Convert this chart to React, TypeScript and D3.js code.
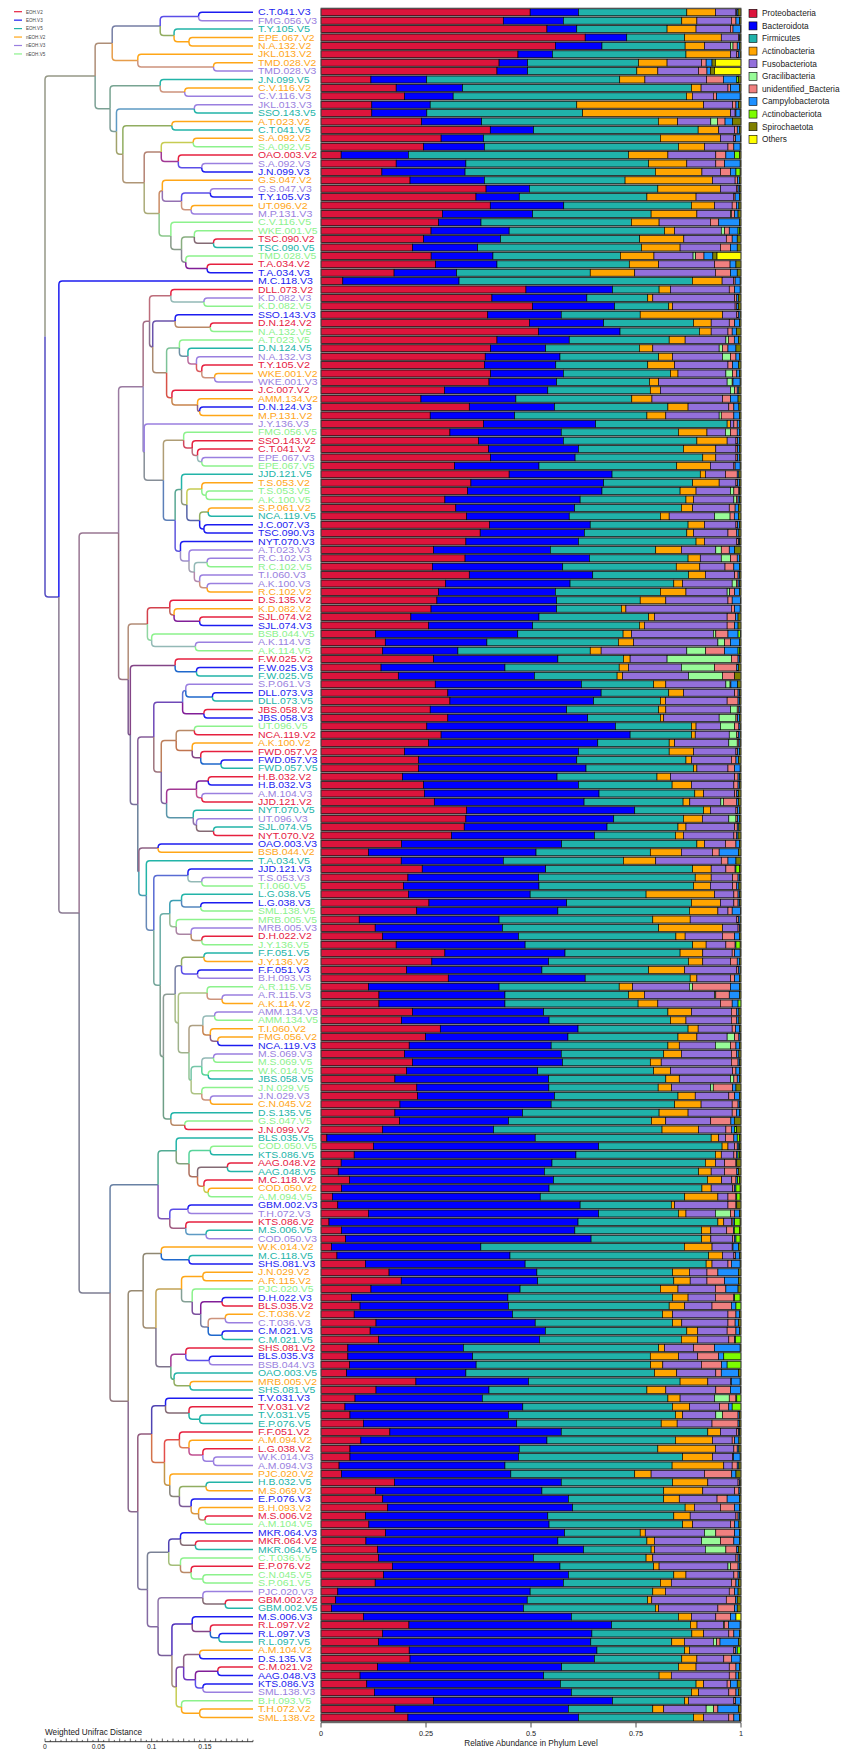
import React from "react";
import * as d3 from "d3";

// sample order (top to bottom, = dendrogram leaf order)
const samples = [
  "C.T.041.V3","FMG.056.V3","T.Y.105.V5","EPE.067.V2","N.A.132.V2","JKL.013.V2","TMD.028.V2","TMD.028.V3","J.N.099.V5","C.V.116.V2",
  "C.V.116.V3","JKL.013.V3","SSO.143.V5","A.T.023.V2","C.T.041.V5","S.A.092.V2","S.A.092.V5","OAO.003.V2","S.A.092.V3","J.N.099.V3",
  "G.S.047.V2","G.S.047.V3","T.Y.105.V3","UT.096.V2","M.P.131.V3","C.V.116.V5","WKE.001.V5","TSC.090.V2","TSC.090.V5","TMD.028.V5",
  "T.A.034.V2","T.A.034.V3","M.C.118.V3","DLL.073.V2","K.D.082.V3","K.D.082.V5","SSO.143.V3","D.N.124.V2","N.A.132.V5","A.T.023.V5",
  "D.N.124.V5","N.A.132.V3","T.Y.105.V2","WKE.001.V2","WKE.001.V3","J.C.007.V2","AMM.134.V2","D.N.124.V3","M.P.131.V2","J.Y.136.V3",
  "FMG.056.V5","SSO.143.V2","C.T.041.V2","EPE.067.V3","EPE.067.V5","JJD.121.V5","T.S.053.V2","T.S.053.V5","A.K.100.V5","S.P.061.V2",
  "NCA.119.V5","J.C.007.V3","TSC.090.V3","NYT.070.V3","A.T.023.V3","R.C.102.V3","R.C.102.V5","T.I.060.V3","A.K.100.V3","R.C.102.V2",
  "D.S.135.V2","K.D.082.V2","SJL.074.V2","SJL.074.V3","BSB.044.V5","A.K.114.V3","A.K.114.V5","F.W.025.V2","F.W.025.V3","F.W.025.V5",
  "S.P.061.V3","DLL.073.V3","DLL.073.V5","JBS.058.V2","JBS.058.V3","UT.096.V5","NCA.119.V2","A.K.100.V2","FWD.057.V2","FWD.057.V3",
  "FWD.057.V5","H.B.032.V2","H.B.032.V3","A.M.104.V3","JJD.121.V2","NYT.070.V5","UT.096.V3","SJL.074.V5","NYT.070.V2","OAO.003.V3",
  "BSB.044.V2","T.A.034.V5","JJD.121.V3","T.S.053.V3","T.I.060.V5","L.G.038.V5","L.G.038.V3","SML.138.V5","MRB.005.V5","MRB.005.V3",
  "D.H.022.V2","J.Y.136.V5","F.F.051.V5","J.Y.136.V2","F.F.051.V3","B.H.093.V3","A.R.115.V5","A.R.115.V3","A.K.114.V2","AMM.134.V3",
  "AMM.134.V5","T.I.060.V2","FMG.056.V2","NCA.119.V3","M.S.069.V3","M.S.069.V5","W.K.014.V5","JBS.058.V5","J.N.029.V5","J.N.029.V3",
  "C.N.045.V2","D.S.135.V5","G.S.047.V5","J.N.099.V2","BLS.035.V5","COD.050.V5","KTS.086.V5","AAG.048.V2","AAG.048.V5","M.C.118.V2",
  "COD.050.V2","A.M.094.V5","GBM.002.V3","T.H.072.V3","KTS.086.V2","M.S.006.V5","COD.050.V3","W.K.014.V2","M.C.118.V5","SHS.081.V3",
  "J.N.029.V2","A.R.115.V2","PJC.020.V5","D.H.022.V3","BLS.035.V2","C.T.036.V2","C.T.036.V3","C.M.021.V3","C.M.021.V5","SHS.081.V2",
  "BLS.035.V3","BSB.044.V3","OAO.003.V5","MRB.005.V2","SHS.081.V5","T.V.031.V3","T.V.031.V2","T.V.031.V5","E.P.076.V5","F.F.051.V2",
  "A.M.094.V2","L.G.038.V2","W.K.014.V3","A.M.094.V3","PJC.020.V2","H.B.032.V5","M.S.069.V2","E.P.076.V3","B.H.093.V2","M.S.006.V2",
  "A.M.104.V5","MKR.064.V3","MKR.064.V2","MKR.064.V5","C.T.036.V5","E.P.076.V2","C.N.045.V5","S.P.061.V5","PJC.020.V3","GBM.002.V2",
  "GBM.002.V5","M.S.006.V3","R.L.097.V2","R.L.097.V3","R.L.097.V5","A.M.104.V2","D.S.135.V3","C.M.021.V2","AAG.048.V3","KTS.086.V3",
  "SML.138.V3","B.H.093.V5","T.H.072.V2","SML.138.V2",
];

const eohSubjects = [
  "C.T.041","T.Y.105","J.N.099","SSO.143","OAO.003","TSC.090","T.A.034","M.C.118","DLL.073","D.N.124",
  "J.C.007","JJD.121","NCA.119","NYT.070","D.S.135","SJL.074","F.W.025","JBS.058","FWD.057","H.B.032",
  "L.G.038","D.H.022","F.F.051","BLS.035","KTS.086","AAG.048","GBM.002","M.S.006","SHS.081","C.M.021",
  "T.V.031","E.P.076","MKR.064","R.L.097",
];

const groups = ["EOH.V2", "EOH.V3", "EOH.V5", "nEOH.V2", "nEOH.V3", "nEOH.V5"];
const groupColors = ["#e6203f", "#1c1cf0", "#22b4a8", "#ffa617", "#9a7fe0", "#8cf28c"];

const phyla = [
  "Proteobacteria", "Bacteroidota", "Firmicutes", "Actinobacteria", "Fusobacteriota", "Gracilibacteria",
  "unidentified_Bacteria", "Campylobacterota", "Actinobacteriota", "Spirochaetota", "Others",
];
const phylaColors = [
  "#dc143c", "#0000ff", "#20b2aa", "#ffa500", "#9370db", "#98fb98",
  "#f08080", "#1e90ff", "#7cfc00", "#808000", "#ffff00",
];
const abundanceTicks = [0, 0.25, 0.5, 0.75, 1];
const distanceTicks = [0, 0.05, 0.1, 0.15];

// right-hand edge of the five main segments, per mille
const proteoEdge = [
  498,434,538,629,558,469,424,419,119,179, 199,121,121,240,403,286,244,48,179,145,
  212,393,369,403,289,280,262,244,218,262, 273,174,52,488,407,504,397,496,518,419,
  404,391,389,404,400,294,238,353,260,387, 307,375,399,404,318,448,357,349,295,321,
  347,401,379,345,268,343,265,353,297,280, 276,262,214,256,130,153,147,268,143,184,
  272,302,307,260,302,252,286,256,199,232, 232,194,244,246,270,347,345,341,311,192,
  113,191,241,207,196,208,257,228,91,129, 147,179,295,264,204,303,113,138,138,218,
  192,284,249,210,199,218,204,176,228,230, 188,176,187,147,14,125,79,48,41,68,
  49,27,40,113,19,49,59,25,38,106, 162,191,119,73,93,79,131,117,137,64,
  64,68,61,226,131,81,57,69,101,164, 95,69,69,43,49,175,130,147,159,106,
  114,154,107,135,137,170,149,129,40,35, 25,101,210,147,137,210,212,135,93,109,
  127,268,176,207,
];
const bactEdge = [
  613,577,609,728,669,551,492,492,252,337, 315,260,252,383,506,387,389,208,345,343,
  389,496,472,578,504,381,448,427,373,409, 419,323,329,694,633,699,572,673,712,591,
  535,569,559,577,561,540,464,556,461,654, 572,577,613,605,519,693,673,669,617,604,
  591,641,627,613,546,639,575,647,593,558, 561,561,519,504,469,395,326,564,438,508,
  620,667,649,585,635,701,736,659,613,609, 631,562,613,662,627,747,697,681,651,573,
  512,434,535,518,519,498,585,564,424,432, 470,486,581,542,526,629,424,438,438,530,
  543,612,588,548,572,575,516,542,542,556, 548,480,446,411,510,661,607,550,532,554,
  543,522,617,661,612,605,645,381,450,486, 514,516,474,445,446,456,510,534,520,339,
  361,369,345,494,400,384,480,446,466,572, 538,472,470,438,452,572,526,589,599,540,
  543,580,564,625,506,569,589,577,498,490, 482,596,694,645,643,657,651,573,530,570,
  596,694,589,613,
];
const firmEdge = [
  871,859,824,866,867,869,756,752,712,882, 871,609,623,804,898,808,851,732,780,796,
  724,802,776,882,786,739,818,758,763,712, 734,641,885,805,778,828,760,887,901,829,
  758,804,778,832,782,784,740,826,776,967, 851,895,863,909,847,903,885,855,869,858,
  808,874,871,893,797,874,845,875,840,808, 760,715,780,758,720,708,641,720,710,705,
  792,828,808,804,808,882,882,829,829,869, 887,800,836,890,863,911,863,850,844,895,
  784,720,885,891,887,774,882,877,790,804, 845,885,855,875,780,879,710,732,755,826,
  832,874,850,826,816,784,792,821,802,850, 842,805,786,812,929,955,939,915,899,921,
  907,866,834,851,945,907,909,866,923,917, 837,840,808,837,829,813,837,871,858,804,
  784,784,794,855,776,826,836,844,810,921, 844,802,861,836,747,837,816,816,867,840,
  861,760,776,786,774,792,840,808,790,776, 796,851,882,883,836,866,859,851,805,893,
  882,866,790,887,
];
const actinoEdge = [
  939,895,893,953,913,975,824,802,772,905, 885,911,975,850,947,951,913,826,871,907,
  932,951,893,937,895,805,842,863,855,792, 804,747,956,832,790,837,956,929,929,867,
  790,837,842,850,804,808,788,874,821,975, 919,967,940,940,927,915,948,893,887,885,
  829,913,887,913,858,903,901,915,861,869, 821,726,794,770,740,744,667,736,732,718,
  821,863,820,821,816,893,891,842,887,882, 895,832,882,911,879,927,908,869,863,913,
  858,797,929,929,927,937,951,945,879,956, 867,917,909,909,866,895,742,770,802,882,
  869,898,895,853,858,810,832,853,834,891, 905,874,820,899,947,969,953,939,929,955,
  929,945,842,869,959,929,931,932,956,931, 877,879,850,874,866,837,859,897,897,818,
  851,813,847,921,821,855,877,861,848,951, 932,939,932,959,786,921,909,853,889,879,
  885,772,794,794,790,805,869,834,820,786, 804,882,898,911,866,877,895,893,834,911,
  899,875,816,911,
];
const fusoEdge = [
  988,977,975,994,975,990,906,899,919,969, 935,980,986,929,985,983,969,940,940,951,
  986,990,983,979,975,927,953,964,951,885, 937,939,983,972,985,986,990,972,969,964,
  948,956,969,964,967,975,956,971,948,983, 963,988,988,988,983,963,988,975,983,972,
  937,988,969,990,940,953,961,985,979,967, 969,977,967,967,935,945,871,824,858,875,
  964,985,967,975,948,951,972,971,988,977, 969,985,983,985,953,988,971,985,983,963,
  932,953,964,980,980,983,983,969,990,993, 956,964,979,975,990,975,877,937,951,977,
  977,979,967,939,977,977,980,975,927,971, 979,979,927,964,963,985,983,961,961,979,
  980,969,969,939,977,967,983,980,983,969, 919,919,939,939,931,969,969,967,971,887,
  897,905,940,975,940,937,948,940,931,990, 979,983,980,979,913,993,985,943,951,988,
  975,913,906,915,988,969,983,977,972,963, 945,940,961,971,935,983,959,972,972,967,
  971,983,917,971,
];

// minor phyla, per mille
const gracilibacteria = [
  0,0,0,0,6,0,0,0,0,0, 0,0,0,16,0,0,0,0,0,0, 0,0,0,0,2,0,8,0,0,6, 0,0,0,0,0,0,0,0,0,6,
  8,19,0,16,12,10,0,0,5,0, 12,0,0,0,0,0,0,8,6,0, 37,0,0,0,13,22,0,0,10,6, 0,0,0,0,6,16,45,153,79,81,
  10,0,0,16,40,34,18,20,0,0, 0,0,0,0,6,0,17,0,0,0, 0,0,0,0,0,0,0,0,0,0, 0,0,0,0,0,0,8,3,0,0,
  0,0,18,36,0,0,0,8,6,0, 0,0,0,0,0,0,0,0,0,0, 0,0,0,36,0,0,0,0,0,0, 0,0,0,0,0,0,0,0,0,0,
  0,0,0,0,0,35,0,16,0,0, 0,0,0,0,0,0,0,0,0,0, 0,27,45,49,0,6,0,0,0,0, 0,0,2,0,8,0,0,0,0,0,
  0,0,18,0,
];
const unidentified = [
  2,11,6,2,10,4,11,20,40,6, 8,8,2,18,6,4,14,24,21,24, 6,3,3,10,8,20,11,14,24,20, 37,36,4,13,5,4,4,13,10,14,
  13,13,11,10,2,6,19,12,30,8, 16,4,4,4,3,28,4,12,4,14, 10,4,21,4,19,16,21,8,4,12, 10,8,20,18,29,14,45,16,53,29,
  2,8,26,4,4,10,4,4,4,11, 16,8,10,5,32,4,4,6,6,25, 16,16,22,13,10,10,10,10,4,3, 29,22,6,16,4,10,90,32,28,13,
  13,8,10,13,13,16,8,8,46,14, 14,10,48,13,20,6,6,27,29,10, 4,19,19,10,4,16,4,2,4,8, 26,42,25,44,46,19,17,21,14,50,
  50,48,13,2,35,16,22,37,62,4, 6,8,2,12,65,3,10,24,34,5, 10,45,32,26,5,18,10,11,13,22, 40,35,10,12,8,4,18,16,16,8,
  17,4,10,12,
];
const campylobacterota = [
  3,8,18,2,6,4,14,8,32,21, 56,6,10,18,5,12,15,21,37,13, 4,4,10,6,8,49,21,12,16,21, 14,16,12,13,4,4,4,11,10,10,
  19,8,14,6,17,4,18,12,13,5, 5,4,4,4,12,4,4,2,4,8, 10,4,5,3,13,5,13,4,4,11, 20,13,6,8,24,21,32,4,4,0,
  16,4,4,3,4,3,4,3,4,6, 13,4,4,4,4,4,4,4,4,8, 46,19,2,4,5,4,4,20,4,2, 11,2,13,5,4,11,21,24,14,5,
  5,10,3,8,5,4,8,5,8,11, 4,8,8,8,8,4,4,2,4,4, 4,2,2,11,4,2,4,13,10,21, 49,33,29,2,11,8,8,8,2,61,
  12,13,41,21,24,2,8,3,3,3, 10,4,16,4,10,2,3,29,11,4, 10,11,13,4,4,4,4,6,8,4, 6,13,28,13,44,4,21,8,6,16,
  6,12,49,13,
];
const actinobacteriota = [
  0,0,0,0,0,0,0,0,4,0, 0,0,0,0,0,0,0,11,0,10, 0,0,0,0,0,0,4,0,0,0, 0,0,0,0,0,0,0,0,0,0,
  0,0,0,0,0,0,0,0,0,0, 0,0,0,0,0,0,0,0,0,0, 0,0,0,0,0,0,0,0,0,0, 0,0,0,0,6,0,4,0,0,0,
  0,0,0,0,0,0,0,0,0,0, 0,0,0,0,0,0,0,0,0,0, 0,0,8,0,0,0,0,0,0,0, 0,10,0,0,0,0,0,0,7,0,
  0,0,0,0,0,0,0,0,0,0, 0,0,0,4,6,2,4,0,0,4, 10,8,0,0,13,12,10,0,0,0, 0,0,0,13,12,0,0,0,13,0,
  41,33,0,0,0,10,21,0,0,0, 0,0,0,0,0,0,0,0,0,0, 0,0,0,0,0,0,0,0,0,0, 0,0,0,0,0,8,0,0,0,0,
  0,0,0,0,
];
const spirochaetota = [
  7,4,1,2,3,2,8,10,6,4, 2,6,2,20,4,1,2,4,2,2, 4,3,4,5,7,4,3,9,9,10, 12,9,2,2,6,6,2,4,11,6,
  12,4,6,4,2,5,7,5,4,4, 4,4,4,4,2,5,4,3,3,6, 6,4,5,3,15,4,4,3,3,4, 1,2,7,7,1,4,3,3,6,15,
  8,3,3,2,4,2,2,2,4,6, 2,3,3,6,6,4,4,5,7,4, 6,12,4,3,5,3,3,1,2,2, 4,2,2,4,2,4,4,4,0,5,
  5,3,2,4,5,3,4,4,12,4, 3,3,16,11,3,3,3,10,6,4, 2,2,10,4,2,4,2,6,3,2, 6,6,7,2,0,4,6,4,0,2,
  0,0,6,2,1,0,0,4,4,3, 5,5,2,5,12,2,2,4,4,3, 5,4,4,6,3,3,3,6,7,9, 9,0,2,4,6,1,2,4,6,9,
  6,1,6,4,
];
const others = [
  0,0,0,0,0,0,61,63,0,0, 0,0,0,0,0,0,0,0,0,0, 0,0,0,0,0,0,0,0,0,57, 0,0,0,0,0,0,0,0,0,0,
  0,0,0,0,0,0,0,0,0,0, 0,0,0,0,0,0,0,0,0,0, 0,0,0,0,0,0,0,0,0,0, 0,0,0,0,0,0,0,0,0,0,
  0,0,0,0,0,0,0,0,0,0, 0,0,0,0,0,0,0,0,0,0, 0,0,0,0,0,0,0,0,0,0, 0,0,0,0,0,0,0,0,0,0,
  0,0,0,0,0,0,0,0,0,0, 0,0,0,0,0,0,0,0,0,0, 0,0,0,0,0,0,0,0,0,0, 0,0,0,0,0,0,0,0,0,0,
  0,0,0,0,0,0,0,0,0,0, 0,0,0,0,0,0,0,0,0,0, 0,0,0,0,0,0,0,0,0,0, 0,12,0,0,0,0,0,0,0,0,
  0,0,0,0,
];

// dendrogram (weighted UniFrac, UPGMA): leaves are sample indices, ":d" = node position
const clusterTop =
  "((((0,1):.144,(2,(3,4):.135):.121):.108,(5,(6,7):.158):.087):.063," +
  "((8,(9,10):.131):.108,((11,12):.14,((13,14):.119,(((15,16):.139,(17,(18,19):.147):.125):.109," +
  "((20,((21,22):.155,(23,24):.137):.128):.11,(25,((26,(27,28):.158):.14,(29,(30,31):.152):.132):.128):.118):.107)" +
  ":.093):.073):.067):.061):.047";
const clusterA =
  "(((33,(34,35):.149):.118,((36,(37,38):.155):.122,((39,(40,(41,(42,(43,44):.159):.147):.142):.134):.126," +
  "(45,(46,(47,48):.145):.143):.119):.114):.101):.098," +
  "(49,((50,(51,(52,(53,54):.147):.143):.138):.13,((55,((56,(57,58):.151):.147,((59,60):.153,(61,62):.149):.145)" +
  ":.133):.128,(63,(64,((65,66):.152,(67,(68,69):.152):.145):.14):.135):.127):.122):.111):.093):.092";
const clusterB =
  "(((105,(106,107):.146):.128,(108,(109,(110,111):.147):.137):.123):.117," +
  "((((112,113):.149,(114,115):.143):.128,((116,(117,118):.166):.152,(((119,120):.159,(121,(122,123):.162):.155)" +
  ":.148,(((124,125):.158,(126,127):.153):.147,(128,(129,130):.155):.147):.137):.135):.125):.122," +
  "(131,(132,133):.131):.118):.111):.108";
const clusterC =
  "(((70,(71,(72,73):.145):.121):.117,(74,(75,76):.141):.1):.096,((77,(78,79):.142):.122," +
  "((((80,(81,82):.157):.132,(83,84):.149):.129,(((85,86):.14,(87,(88,(89,90):.165):.146):.138):.123," +
  "(((91,92):.153,(93,94):.147):.142,(95,(96,(97,98):.158):.142):.139):.114):.109):.102," +
  "((99,100):.106,(101,((102,(103,104):.147):.134," + clusterB + "):.102):.095):.088):.087):.08):.078";
const clusterD =
  "(((134,((135,136):.155,((137,138):.171,(139,(140,141):.153):.149):.143):.135):.123," +
  "((142,143):.134,(144,(145,146):.151):.132):.117):.106," +
  "(((147,(148,149):.135):.109,(((150,151):.148,(152,((153,154):.166,((155,156):.169,(157,158):.166):.153):.146)" +
  ":.138):.128,((159,(160,161):.154):.132,(162,(163,164):.136):.121):.118):.104):.092," +
  "(((165,(166,(167,168):.145):.135):.113,((169,(170,(171,(172,173):.158):.148):.135):.126," +
  "(174,((175,176):.151,(177,(178,(179,180):.15):.144):.137):.126):.117):.112):.1," +
  "(((181,(182,183):.141):.127,(184,(185,(186,187):.148):.137):.127):.116,((188,(189,190):.169):.148," +
  "((191,(192,(193,194):.163):.155):.138,(((195,196):.145,((197,198):.162,(199,200):.148):.141):.13," +
  "(201,(202,203):.145):.128):.123):.119):.106):.096):.087):.078):.061";
const treeNewick =
  "(" + clusterTop + ",(32,((" + clusterA + "," + clusterC + "):.069," + clusterD + "):.032):.013):0";
const leafDepth = 0.195;

function parseTree(s: string) {
  let i = 0;
  const node = (): any => {
    if (s[i] === "(") {
      i++;
      const children = [node()];
      while (s[i] === ",") {
        i++;
        children.push(node());
      }
      i++;
      let d = 0;
      if (s[i] === ":") {
        i++;
        const j = i;
        while (i < s.length && /[0-9.]/.test(s[i])) i++;
        d = +s.slice(j, i);
      }
      return { children, d };
    }
    const j = i;
    while (i < s.length && /[0-9]/.test(s[i])) i++;
    return { leaf: +s.slice(j, i) };
  };
  return node();
}

// Helvetica/Arial advance widths (em), used to pin text widths with textLength
const em: Record<string, number> = {
  ".": 0.278, " ": 0.278, _: 0.556, "0": 0.556, "1": 0.556, "2": 0.556, "3": 0.556, "4": 0.556, "5": 0.556,
  "6": 0.556, "7": 0.556, "8": 0.556, "9": 0.556,
  A: 0.667, B: 0.667, C: 0.722, D: 0.722, E: 0.667, F: 0.611, G: 0.778, H: 0.722, I: 0.278, J: 0.5, K: 0.667,
  L: 0.556, M: 0.833, N: 0.722, O: 0.778, P: 0.667, Q: 0.778, R: 0.722, S: 0.667, T: 0.611, U: 0.722, V: 0.667,
  W: 0.944, X: 0.667, Y: 0.667, Z: 0.611,
  a: 0.556, b: 0.556, c: 0.5, d: 0.556, e: 0.556, f: 0.278, g: 0.556, h: 0.556, i: 0.222, j: 0.222, k: 0.5,
  l: 0.222, m: 0.833, n: 0.556, o: 0.556, p: 0.556, q: 0.556, r: 0.333, s: 0.5, t: 0.278, u: 0.556, v: 0.5,
  w: 0.722, x: 0.5, y: 0.5, z: 0.5,
};
const textW = (s: string, px: number) => s.split("").reduce((a, c) => a + (em[c] ?? 0.556), 0) * px;

const W = 843;
const H = 1750;
const font = "'Liberation Sans', Arimo, Arial, Helvetica, sans-serif";

const eoh = new Set(eohSubjects);
const groupOf = (s: string) => {
  const subj = s.slice(0, s.lastIndexOf("."));
  return (eoh.has(subj) ? "EOH" : "nEOH") + s.slice(s.lastIndexOf("."));
};
const colorOf = (s: string) => groupColors[groups.indexOf(groupOf(s))];

function T(props: any) {
  const { children, size, per, ...rest } = props;
  return (
    <text fontSize={size} textLength={textW(String(children), per ?? size)} lengthAdjust="spacingAndGlyphs" {...rest}>
      {children}
    </text>
  );
}

export default function App() {
  const n = samples.length;
  const y = d3.scaleBand<number>().domain(d3.range(n)).range([8.1, 1721.7]).paddingInner(0.18).paddingOuter(0.09);
  const bw = y.bandwidth();
  const x = d3.scaleLinear().domain([0, 1]).range([321, 741]);
  const dx = d3.scaleLinear().domain([0, 0.15]).range([45, 205]);

  const series: Record<string, number[]> = {
    Proteobacteria: proteoEdge,
    Bacteroidota: bactEdge.map((v, i) => v - proteoEdge[i]),
    Firmicutes: firmEdge.map((v, i) => v - bactEdge[i]),
    Actinobacteria: actinoEdge.map((v, i) => v - firmEdge[i]),
    Fusobacteriota: fusoEdge.map((v, i) => v - actinoEdge[i]),
    Gracilibacteria: gracilibacteria,
    unidentified_Bacteria: unidentified,
    Campylobacterota: campylobacterota,
    Actinobacteriota: actinobacteriota,
    Spirochaetota: spirochaetota,
    Others: others,
  };
  const table = samples.map((s, i) => {
    const row: any = { sample: s, idx: i };
    phyla.forEach((p) => (row[p] = Math.max(0, series[p][i])));
    return row;
  });
  const stacked = d3.stack<any>().keys(phyla).offset(d3.stackOffsetExpand)(table);

  // dendrogram layout
  const root: any = d3.hierarchy(parseTree(treeNewick), (d: any) => d.children);
  root.eachAfter((nd: any) => {
    if (!nd.children) {
      nd.px = dx(leafDepth);
      nd.py = (y(nd.data.leaf) as number) + bw / 2;
      nd.col = colorOf(samples[nd.data.leaf]);
    } else {
      nd.px = dx(nd.data.d);
      nd.py = (nd.children[0].py + nd.children[nd.children.length - 1].py) / 2;
      const cs = nd.children.map((c: any) => d3.rgb(c.col));
      nd.col = d3.rgb(d3.mean(cs, (c: any) => c.r)!, d3.mean(cs, (c: any) => c.g)!, d3.mean(cs, (c: any) => c.b)!).formatHex();
    }
  });
  const elbow = (px: number, py: number, cx: number, cy: number) => {
    const dy = cy - py;
    if (Math.abs(dy) < 0.5) return `M${px},${cy}H${cx}`;
    const s = Math.sign(dy);
    const r = Math.min(3.5, Math.abs(dy), cx - px);
    return `M${px},${py}V${cy - s * r}Q${px},${cy} ${px + r},${cy}H${cx}`;
  };

  const scaleTicks = d3.range(0, 0.1951, 0.005);
  const legendY = (i: number) => 13.3 + i * 12.6;

  return (
    <svg width={W} height={H} style={{ position: "absolute", left: 0, top: 0, background: "#fff", fontFamily: font }}>
      {/* group legend */}
      {groups.map((g, i) => (
        <g key={g} transform={`translate(0,${11.7 + i * 8.45})`}>
          <line x1={14} x2={22} stroke={groupColors[i]} strokeWidth={1.2} />
          <T x={26} y={1.8} size={5} per={4.55} fill="#444">{g}</T>
        </g>
      ))}

      {/* dendrogram */}
      <g fill="none" strokeWidth={1.5}>
        {root.links().map((l: any, i: number) => (
          <path key={i} d={elbow(l.source.px, l.source.py, l.target.px, l.target.py)} stroke={l.target.col} />
        ))}
      </g>

      {/* sample labels */}
      {samples.map((s, i) => (
        <T key={s} x={258} y={(y(i) as number) + bw / 2 + 3} size={8.6} per={10.4} fill={colorOf(s)}>
          {s}
        </T>
      ))}

      {/* stacked bars */}
      <rect x={x(0)} y={8.1} width={x(1) - x(0)} height={1721.7 - 8.1} fill="#8a8a8a" />
      {stacked.map((layer, k) => (
        <g key={layer.key} fill={phylaColors[k]} stroke="#000" strokeWidth={0.6}>
          {layer.map((d: any, i: number) =>
            d[1] - d[0] > 0 ? (
              <rect key={i} x={x(d[0])} y={y(i)} width={x(d[1]) - x(d[0])} height={bw} />
            ) : null
          )}
        </g>
      ))}
      <rect x={x(0)} y={8.1} width={x(1) - x(0)} height={1721.7 - 8.1} fill="none" stroke="#555" strokeWidth={0.8} />

      {/* x axis */}
      <g fill="#222">
        <line x1={x(0)} x2={x(1)} y1={1722.7} y2={1722.7} stroke="#222" strokeWidth={0.8} />
        {abundanceTicks.map((t) => (
          <g key={t}>
            <line x1={x(t)} x2={x(t)} y1={1722.7} y2={1727.5} stroke="#222" strokeWidth={0.8} />
            <T x={x(t) - textW(String(t), 7.3) / 2} y={1736} size={7.5} per={7.3}>{String(t)}</T>
          </g>
        ))}
        <T x={(x(0) + x(1)) / 2 - textW("Relative Abundance in Phylum Level", 8.2) / 2} y={1745.5} size={8.2}>
          Relative Abundance in Phylum Level
        </T>
      </g>

      {/* phylum legend */}
      {phyla.map((p, i) => (
        <g key={p}>
          <rect x={749} y={legendY(i) - 4} width={8} height={8} fill={phylaColors[i]} stroke="#000" strokeWidth={0.6} />
          <T x={762} y={legendY(i) + 2.9} size={8.3} fill="#222">{p}</T>
        </g>
      ))}

      {/* distance scale */}
      <g fill="#222">
        <T x={45} y={1734.5} size={8.2}>Weighted Unifrac Distance</T>
        <line x1={dx(0)} x2={dx(leafDepth)} y1={1741.7} y2={1741.7} stroke="#222" strokeWidth={0.9} />
        {scaleTicks.map((t, i) => (
          <line key={i} x1={dx(t)} x2={dx(t)} y1={1741.7} y2={1741.7 - (i % 2 === 0 ? 3.2 : 1.8)} stroke="#222" strokeWidth={0.7} />
        ))}
        {distanceTicks.map((t) => (
          <T key={t} x={dx(t) - textW(String(t), 6.8) / 2} y={1749.4} size={6.5} per={6.8}>{String(t)}</T>
        ))}
      </g>
    </svg>
  );
}
